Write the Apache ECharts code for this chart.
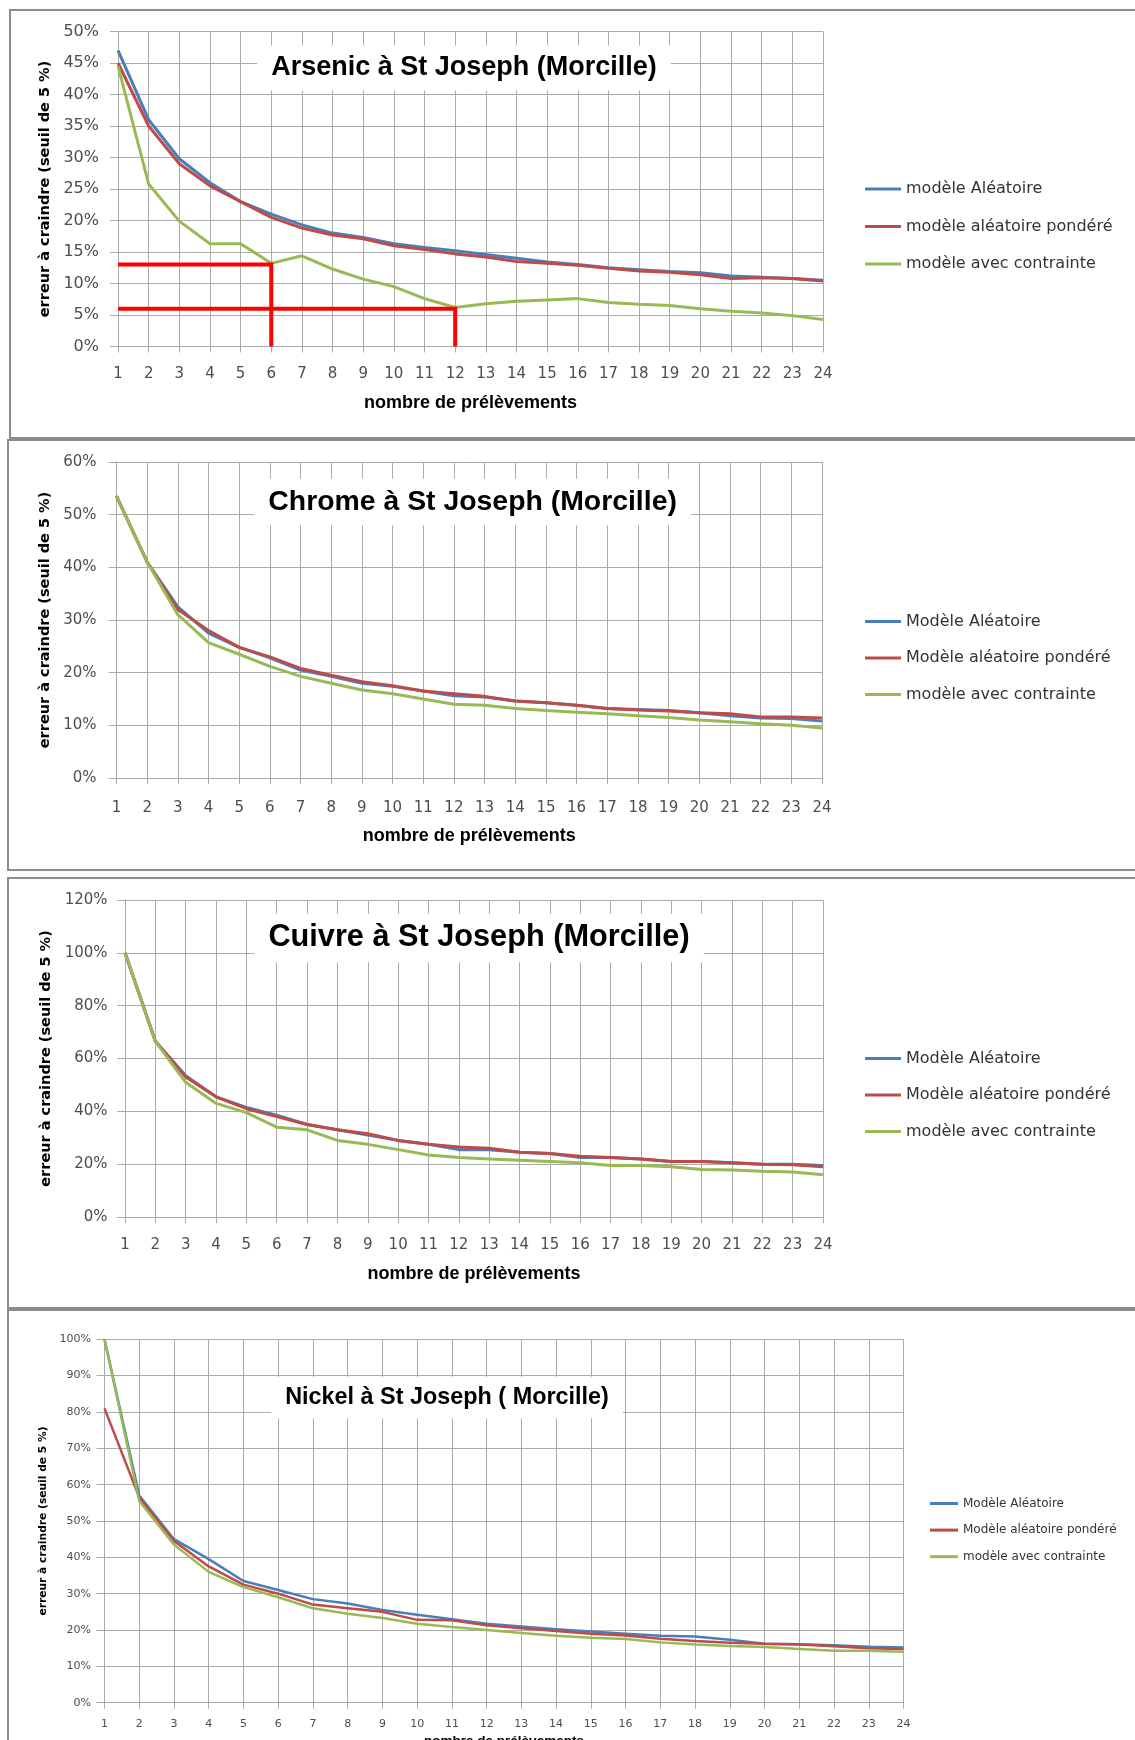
<!DOCTYPE html>
<html>
<head>
<meta charset="utf-8">
<title>Erreur à craindre - St Joseph (Morcille)</title>
<script src="https://cdn.jsdelivr.net/npm/echarts@6/dist/echarts.min.js"></script>
<style>
  body { margin: 0; background: #fff; }
  .page { position: relative; width: 1135px; height: 1740px; overflow: hidden; background: #fff; }
  .panel { position: absolute; left: 0; width: 1135px; }
  .frame { position: absolute; border: 2px solid #8c8c8c; box-sizing: border-box; pointer-events: none; }
</style>
</head>
<body>
<div class="page">
  <div id="arsenic" class="panel" style="top:0;height:440px"></div>
  <div id="chrome" class="panel" style="top:440px;height:436px"></div>
  <div id="cuivre" class="panel" style="top:876px;height:434px"></div>
  <div id="nickel" class="panel" style="top:1310px;height:430px"></div>
  <div class="frame" style="left:9px;top:9px;width:1140px;height:430px"></div>
  <div class="frame" style="left:7px;top:439px;width:1140px;height:432px"></div>
  <div class="frame" style="left:7px;top:877px;width:1140px;height:432px"></div>
  <div class="frame" style="left:7px;top:1309px;width:1140px;height:450px"></div>
</div>
<script>
// nombre de prélèvements
const samples = ['1','2','3','4','5','6','7','8','9','10','11','12','13','14','15','16','17','18','19','20','21','22','23','24'];

// Arsenic (%)
const arsenicAleatoire = [47, 36, 29.8, 26, 23, 21, 19.3, 18, 17.3, 16.3, 15.7, 15.2, 14.6, 14, 13.4, 13, 12.5, 12.2, 11.9, 11.7, 11.2, 11, 10.8, 10.5];
const arsenicPondere = [45, 35, 29, 25.5, 23, 20.5, 18.8, 17.7, 17.1, 16, 15.4, 14.7, 14.2, 13.5, 13.2, 12.9, 12.4, 12, 11.8, 11.4, 10.8, 10.9, 10.8, 10.4];
const arsenicContrainte = [44.5, 25.8, 19.9, 16.3, 16.3, 13.2, 14.4, 12.3, 10.7, 9.5, 7.6, 6.2, 6.8, 7.2, 7.4, 7.6, 7.0, 6.7, 6.5, 6.0, 5.6, 5.3, 4.9, 4.3];
// repères rouges (prélèvements, %)
const arsenicRepere6 = [['1', 13], ['6', 13], ['6', 0]];
const arsenicRepere12 = [['1', 6], ['12', 6], ['12', 0]];

// Chrome (%)
const chromeAleatoire = [53.5, 41, 32.5, 27.5, 24.8, 22.8, 20.5, 19.3, 18, 17.4, 16.5, 15.6, 15.4, 14.6, 14.3, 13.8, 13.2, 13, 12.8, 12.4, 11.8, 11.4, 11.3, 10.8];
const chromePondere = [53.5, 41, 32, 28, 24.8, 23, 20.8, 19.5, 18.3, 17.5, 16.5, 16, 15.5, 14.6, 14.3, 13.8, 13.2, 12.9, 12.7, 12.4, 12.2, 11.6, 11.6, 11.4];
const chromeContrainte = [53.5, 41, 31, 25.7, 23.5, 21.2, 19.3, 18, 16.7, 16, 15, 14, 13.8, 13.2, 12.8, 12.5, 12.2, 11.8, 11.5, 11, 10.7, 10.3, 10, 9.5];

// Cuivre (%)
const cuivreAleatoire = [100, 66.5, 53.5, 45.5, 41.5, 38.5, 35, 33, 31, 29, 27.5, 25.5, 25.5, 24.5, 24, 22.5, 22.5, 22, 21, 21, 20.5, 20, 20, 19.5];
const cuivrePondere = [100, 66.5, 53, 45.5, 41, 38, 35, 33, 31.5, 29, 27.5, 26.5, 26, 24.5, 24, 23, 22.5, 22, 21, 21, 20.5, 20, 19.8, 19];
const cuivreContrainte = [100, 66.5, 51, 43, 39.5, 34, 33, 29, 27.5, 25.5, 23.5, 22.5, 22, 21.5, 21, 20.5, 19.5, 19.5, 19, 18, 17.8, 17.3, 17, 16];

// Nickel (%)
const nickelAleatoire = [100, 57, 45, 39.5, 33.5, 31, 28.5, 27.3, 25.5, 24.2, 23, 21.7, 21, 20.2, 19.6, 19, 18.4, 18.2, 17.3, 16.2, 16.1, 15.8, 15.4, 15.2];
const nickelPondere = [81, 56.5, 44.5, 37.5, 32.5, 30, 27, 26, 25, 22.8, 22.7, 21.3, 20.5, 19.7, 19, 18.5, 17.6, 17, 16.5, 16.2, 16, 15.5, 15, 14.8];
const nickelContrainte = [100, 55.5, 43.5, 36, 31.8, 29, 26, 24.5, 23.3, 21.7, 20.8, 20, 19.2, 18.4, 17.9, 17.5, 16.6, 16, 15.6, 15.3, 14.8, 14.3, 14.3, 14];

const BLUE = '#4a7ebb';
const RED = '#be4b48';
const GREEN = '#98b954';
const GRIDLINE = '#ababab';

const buildOption = (c) => {
    const f = c.fonts;
    const lineSeries = (name, data, color) => ({
        name: name,
        type: 'line',
        data: data,
        symbol: 'none',
        smooth: false,
        lineStyle: { color: color, width: c.lineWidth },
        itemStyle: { color: color },
        z: 3
    });

    const series = [
        lineSeries(c.names[0], c.values[0], BLUE),
        lineSeries(c.names[1], c.values[1], RED),
        lineSeries(c.names[2], c.values[2], GREEN)
    ];
    (c.markers || []).forEach(m => {
        series.push({
            type: 'line',
            data: m,
            symbol: 'none',
            clip: false,
            lineStyle: { color: '#ff0000', width: 4, cap: 'butt', join: 'miter' },
            z: 5,
            silent: true
        });
    });

    return {
        animation: false,
        backgroundColor: '#fff',
        title: {
            text: c.title,
            textAlign: 'center',
            left: c.titleX - 14,
            top: c.titleY - (f.title + 4) / 2 - 7,
            padding: [7, 14],
            backgroundColor: '#fff',
            textStyle: {
                fontFamily: 'Liberation Sans, Arial, sans-serif',
                fontWeight: 'bold',
                fontSize: f.title,
                lineHeight: f.title + 4,
                color: '#000'
            }
        },
        legend: {
            data: c.names,
            orient: 'vertical',
            left: c.legend.left,
            top: c.legend.top,
            itemGap: c.legend.gap,
            icon: 'rect',
            itemWidth: c.legend.iconWidth,
            itemHeight: 3,
            padding: 0,
            textStyle: {
                fontFamily: 'DejaVu Sans, sans-serif',
                fontSize: f.legend,
                lineHeight: f.legend,
                color: '#333'
            }
        },
        grid: {
            left: c.grid.left,
            top: c.grid.top,
            width: c.grid.width,
            height: c.grid.height,
            containLabel: false,
            outerBoundsMode: 'none'
        },
        xAxis: {
            type: 'category',
            data: samples,
            boundaryGap: false,
            name: 'nombre de prélèvements',
            nameLocation: 'middle',
            nameGap: c.xNameGap,
            nameTextStyle: {
                fontFamily: 'Liberation Sans, Arial, sans-serif',
                fontWeight: 'bold',
                fontSize: f.xName,
                color: '#000'
            },
            axisLine: { show: true, lineStyle: { color: GRIDLINE, width: 1 } },
            axisTick: { show: true, interval: 0, length: 6, lineStyle: { color: GRIDLINE } },
            axisLabel: {
                interval: 0,
                margin: c.xLabelMargin,
                fontFamily: 'DejaVu Sans, sans-serif',
                fontSize: f.xLabel,
                color: '#4d4d4d'
            },
            splitLine: { show: true, interval: 0, lineStyle: { color: GRIDLINE, width: 1 } }
        },
        yAxis: {
            type: 'value',
            min: 0,
            max: c.yMax,
            interval: c.yStep,
            name: 'erreur à craindre (seuil de 5 %)',
            nameLocation: 'middle',
            nameRotate: 90,
            nameGap: c.yNameGap,
            nameTextStyle: {
                fontFamily: 'DejaVu Sans, sans-serif',
                fontWeight: 'bold',
                fontSize: f.yName,
                color: '#000'
            },
            axisLine: { show: true, lineStyle: { color: GRIDLINE, width: 1 } },
            axisTick: { show: true, length: 8, lineStyle: { color: GRIDLINE } },
            axisLabel: {
                formatter: '{value}%',
                margin: c.yLabelMargin,
                fontFamily: 'DejaVu Sans, sans-serif',
                fontSize: f.yLabel,
                color: '#4d4d4d'
            },
            splitLine: { show: true, lineStyle: { color: GRIDLINE, width: 1 } }
        },
        series: series
    };
};

const charts = [
    {
        id: 'arsenic',
        title: 'Arsenic à St Joseph (Morcille)',
        titleX: 464, titleY: 68,
        names: ['modèle Aléatoire', 'modèle aléatoire pondéré', 'modèle avec contrainte'],
        values: [arsenicAleatoire, arsenicPondere, arsenicContrainte],
        markers: [arsenicRepere6, arsenicRepere12],
        grid: { left: 118, top: 31.5, width: 705, height: 315 },
        yMax: 50, yStep: 5,
        legend: { left: 865, top: 181, gap: 21.5, iconWidth: 36 },
        fonts: { title: 27, legend: 16, xLabel: 15, yLabel: 16, xName: 18, yName: 14.5 },
        xLabelMargin: 20.5, yLabelMargin: 19, xNameGap: 48, yNameGap: 62,
        lineWidth: 3
    },
    {
        id: 'chrome',
        title: 'Chrome à St Joseph (Morcille)',
        titleX: 472.6, titleY: 62,
        names: ['Modèle Aléatoire', 'Modèle aléatoire pondéré', 'modèle avec contrainte'],
        values: [chromeAleatoire, chromePondere, chromeContrainte],
        grid: { left: 116.5, top: 22, width: 705.5, height: 316 },
        yMax: 60, yStep: 10,
        legend: { left: 865, top: 173.5, gap: 20.5, iconWidth: 36 },
        fonts: { title: 28.4, legend: 16, xLabel: 15, yLabel: 15, xName: 18, yName: 14.5 },
        xLabelMargin: 23, yLabelMargin: 20, xNameGap: 49.5, yNameGap: 60.6,
        lineWidth: 3
    },
    {
        id: 'cuivre',
        title: 'Cuivre à St Joseph (Morcille)',
        titleX: 479, titleY: 62,
        names: ['Modèle Aléatoire', 'Modèle aléatoire pondéré', 'modèle avec contrainte'],
        values: [cuivreAleatoire, cuivrePondere, cuivreContrainte],
        grid: { left: 125, top: 24, width: 698, height: 317 },
        yMax: 120, yStep: 20,
        legend: { left: 865, top: 174.5, gap: 20.5, iconWidth: 36 },
        fonts: { title: 30.7, legend: 16, xLabel: 15, yLabel: 15, xName: 18, yName: 14.5 },
        xLabelMargin: 20.5, yLabelMargin: 17.4, xNameGap: 48.5, yNameGap: 69,
        lineWidth: 3
    },
    {
        id: 'nickel',
        title: 'Nickel à St Joseph ( Morcille)',
        titleX: 447, titleY: 87.5,
        names: ['Modèle Aléatoire', 'Modèle aléatoire pondéré', 'modèle avec contrainte'],
        values: [nickelAleatoire, nickelPondere, nickelContrainte],
        grid: { left: 104.5, top: 29.3, width: 799, height: 363.4 },
        yMax: 100, yStep: 10,
        legend: { left: 930, top: 187.5, gap: 14.6, iconWidth: 28 },
        fonts: { title: 23.4, legend: 12, xLabel: 11, yLabel: 11, xName: 13.5, yName: 10.7 },
        xLabelMargin: 16, yLabelMargin: 13.5, xNameGap: 25, yNameGap: 54.7,
        lineWidth: 2.5
    }
];

charts.forEach(c => {
    const myChart = echarts.init(document.getElementById(c.id), null, {
        renderer: 'canvas',
        useDirtyRect: false
    });
    myChart.setOption(buildOption(c));
    window.addEventListener('resize', myChart.resize);
});
</script>
</body>
</html>
